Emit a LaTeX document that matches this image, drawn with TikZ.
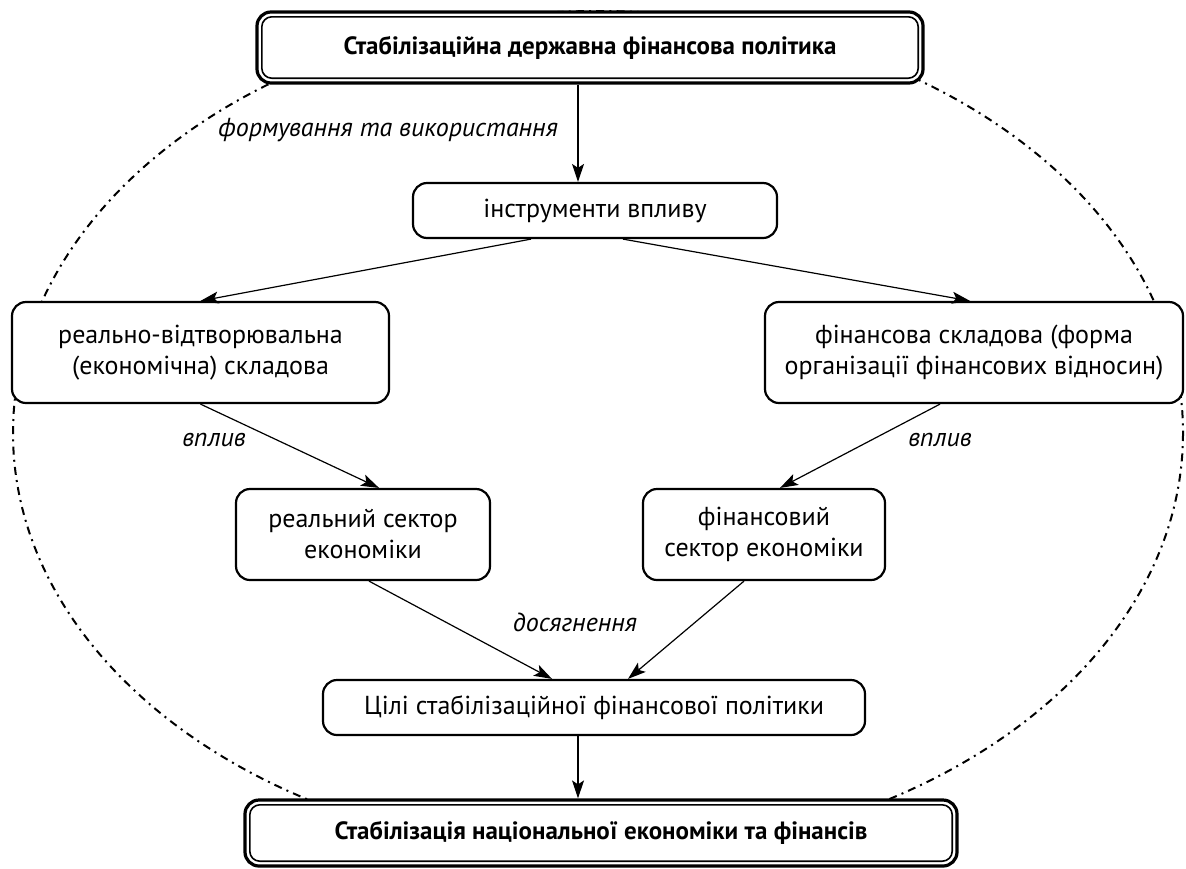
\documentclass[tikz,border=0pt]{standalone}
\usepackage{fontspec}
\setmainfont{PT Sans}
\usetikzlibrary{arrows.meta}
\begin{document}
\begin{tikzpicture}[x=0.5pt,y=-0.5pt,
  txt/.style={font=\fontsize{13}{15.5}\selectfont},
  box/.style={draw,line width=1.1pt,rounded corners=7pt,fill=white,align=center,inner sep=0pt,txt},
  mainbox/.style={draw,line width=1.6pt,rounded corners=7pt,fill=white,align=center,inner sep=0pt,font=\bfseries\fontsize{12.5}{15}\selectfont},
  inner/.style={line width=0.8pt,rounded corners=5pt},
  arr/.style={line width=0.6pt,-{Stealth[length=9pt,width=6pt,inset=2pt]}},
  lbl/.style={font=\itshape\fontsize{13}{15.5}\selectfont},
  dashdot/.style={line width=1pt,dash pattern=on 4pt off 2.6pt on 1pt off 2.6pt}
]
\useasboundingbox (0,0) rectangle (1186,868);
\draw[dashdot] (598,433) ellipse [x radius=585, y radius=422];

\node[mainbox,minimum width=333pt,minimum height=35.5pt] (top) at (590,47.5) {Стабілізаційна державна фінансова політика};
\draw[inner] ([shift={(3.2pt,-3.2pt)}]top.north west) rectangle ([shift={(-3.2pt,3.2pt)}]top.south east);

\node[box,minimum width=182pt,minimum height=27.5pt] (inst) at (595,210.5) {інструменти впливу};
\node[box,minimum width=188.5pt,minimum height=50.5pt] (left) at (200.5,352.5) {реально-відтворювальна\\(економічна) складова};
\node[box,minimum width=209pt,minimum height=50.5pt] (right) at (974,352.5) {фінансова складова (форма\\організації фінансових відносин)};
\node[box,minimum width=127pt,minimum height=45.5pt] (real) at (363,534.5) {реальний сектор\\економіки};
\node[box,minimum width=121pt,minimum height=45.5pt] (fin) at (764,534.5) {фінансовий\\сектор економіки};
\node[box,minimum width=271pt,minimum height=27.5pt] (goals) at (594,707.5) {Цілі стабілізаційної фінансової політики};

\node[mainbox,minimum width=356pt,minimum height=33pt] (bot) at (601,833) {Стабілізація національної економіки та фінансів};
\draw[inner] ([shift={(3.2pt,-3.2pt)}]bot.north west) rectangle ([shift={(-3.2pt,3.2pt)}]bot.south east);

\draw[arr] ([xshift=-6pt]top.south) -- ([xshift=-6pt]top.south |- inst.north);
\draw[arr] ([xshift=-32pt]inst.south) -- (left.north);
\draw[arr] ([xshift=14pt]inst.south) -- ([xshift=-2pt]right.north);
\draw[arr] (left.south) -- ([xshift=8pt]real.north);
\draw[arr] ([xshift=-17pt]right.south) -- ([xshift=8pt]fin.north);
\draw[arr] ([xshift=3pt]real.south) -- ([xshift=-21pt]goals.north);
\draw[arr] ([xshift=-10pt]fin.south) -- ([xshift=17pt]goals.north);
\draw[arr] ([xshift=-8pt]goals.south) -- ([xshift=-8pt]goals.south |- bot.north);

\node[lbl] (l1) at (388,130) {формування та використання};
\node[lbl] (l2) at (214,440) {вплив};
\node[lbl] (l3) at (940,440) {вплив};
\node[lbl] (l4) at (575,622) {досягнення};
\end{tikzpicture}
\end{document}
